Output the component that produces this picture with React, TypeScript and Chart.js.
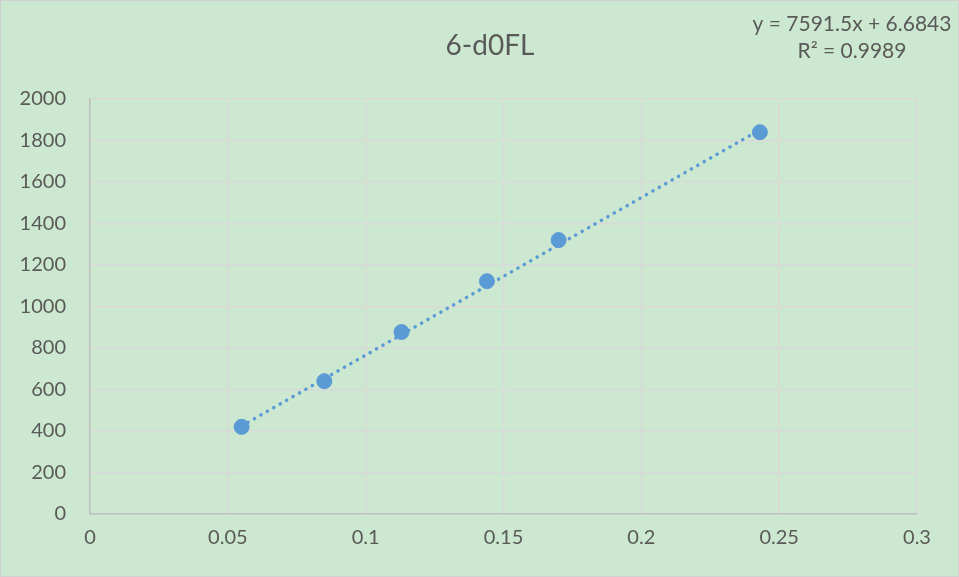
import React, { useEffect, useRef } from "react";
import { Chart, registerables } from "chart.js";

Chart.register(...registerables);

const titleText = "6-d0FL";
const equationLines = ["y = 7591.5x + 6.6843", "R² = 0.9989"];
const xValues = [0.055, 0.085, 0.113, 0.144, 0.17, 0.243];
const yValues = [420, 640, 877, 1122, 1320, 1840];
const trendSlope = 7591.5;
const trendIntercept = 6.6843;
const xTickLabels = ["0", "0.05", "0.1", "0.15", "0.2", "0.25", "0.3"];
const yTickLabels = ["0", "200", "400", "600", "800", "1000", "1200", "1400", "1600", "1800", "2000"];

const FONT = "Lato, 'Open Sans', sans-serif";
const TEXT = "#595959";
const BLUE = "#5B9BD5";

export default function App() {
  const ref = useRef<HTMLCanvasElement | null>(null);
  useEffect(() => {
    if (!ref.current) return;
    const points = xValues.map((x, i) => ({ x, y: yValues[i] }));
    const x0 = xValues[0];
    const x1 = xValues[xValues.length - 1];
    const trend = [
      { x: x0, y: trendSlope * x0 + trendIntercept },
      { x: x1, y: trendSlope * x1 + trendIntercept },
    ];
    const decor = {
      id: "decor",
      beforeDraw(chart: any) {
        const { ctx, width, height } = chart;
        ctx.save();
        ctx.fillStyle = "#CDE8D0";
        ctx.fillRect(0, 0, width, height);
        ctx.strokeStyle = "#D0D0D0";
        ctx.lineWidth = 1;
        ctx.strokeRect(0.5, 0.5, width - 1, height - 1);
        ctx.restore();
      },
      afterDraw(chart: any) {
        const { ctx } = chart;
        ctx.save();
        ctx.fillStyle = TEXT;
        ctx.textBaseline = "middle";
        ctx.textAlign = "center";
        ctx.font = `28px ${FONT}`;
        ctx.fillText(titleText, 490, 46);
        ctx.font = `21px ${FONT}`;
        ctx.fillText(equationLines[0], 852, 24);
        ctx.fillText(equationLines[1], 852, 51);
        ctx.restore();
      },
    };
    const chart = new Chart(ref.current, {
      type: "scatter",
      data: {
        datasets: [
          {
            type: "line",
            data: trend,
            borderColor: BLUE,
            borderWidth: 3.5,
            borderDash: [0.1, 7.3],
            borderCapStyle: "round",
            pointRadius: 0,
            fill: false,
          } as any,
          {
            data: points,
            backgroundColor: BLUE,
            borderColor: BLUE,
            pointRadius: 7.5,
            pointHoverRadius: 7.5,
          },
        ],
      },
      options: {
        animation: false,
        responsive: false,
        maintainAspectRatio: false,
        layout: { padding: { left: 0, right: 42, top: 99, bottom: 0 } },
        plugins: { legend: { display: false }, tooltip: { enabled: false }, title: { display: false } },
        scales: {
          x: {
            type: "linear",
            min: 0,
            max: 0.3,
            ticks: {
              stepSize: 0.05,
              color: TEXT,
              font: { family: FONT, size: 20 },
              padding: 12,
              maxRotation: 0,
              callback: (_v: any, i: number) => xTickLabels[i],
            },
            grid: { color: "#D9D9D9", lineWidth: 1.5, drawTicks: false },
            border: { color: "#BFBFBF", width: 1.5 },
            afterFit: (s: any) => { s.height = 63; },
          },
          y: {
            min: 0,
            max: 2000,
            ticks: {
              stepSize: 200,
              color: TEXT,
              font: { family: FONT, size: 20 },
              padding: 24,
              callback: (_v: any, i: number) => yTickLabels[i],
            },
            grid: { color: "#D9D9D9", lineWidth: 1.5, drawTicks: false },
            border: { color: "#BFBFBF", width: 1.5 },
            afterFit: (s: any) => { s.width = 90; },
          },
        },
      },
      plugins: [decor],
    });
    return () => chart.destroy();
  }, []);
  return (
    <div style={{ position: "absolute", left: 0, top: 0, width: 959, height: 577 }}>
      <canvas ref={ref} width={959} height={577} style={{ display: "block" }} />
    </div>
  );
}
